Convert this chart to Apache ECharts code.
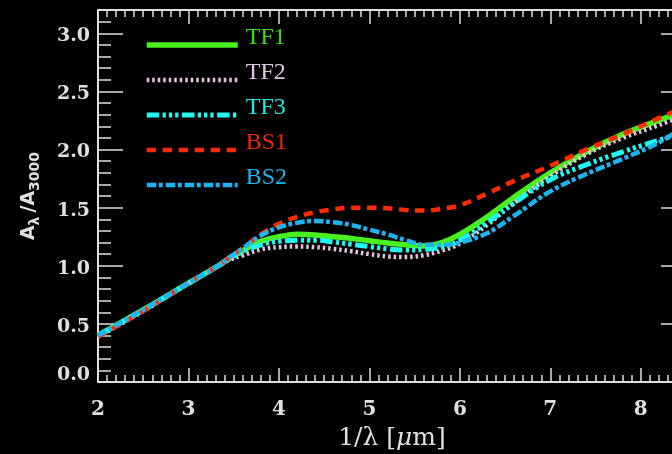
<!DOCTYPE html>
<html><head><meta charset="utf-8">
<script src="https://cdn.jsdelivr.net/npm/echarts@6/dist/echarts.min.js"></script>
<style>html,body{margin:0;padding:0;background:#000;}#c{width:672px;height:454px;}</style>
</head><body><div id="c"></div>
<script>
// 1/lambda [1/micron]
const xValues = [2.0,2.5,3.0,3.33,3.45,3.6,3.8,4.0,4.2,4.4,4.6,4.8,5.0,5.2,5.4,5.6,5.8,6.0,6.3,6.6,7.0,7.4,7.8,8.2,8.5];
const tf1 = [0.40,0.62,0.85,1.00,1.065,1.13,1.21,1.25,1.27,1.265,1.25,1.235,1.215,1.195,1.18,1.17,1.20,1.27,1.42,1.59,1.80,1.98,2.13,2.25,2.34];
const tf2 = [0.39,0.61,0.85,1.00,1.05,1.09,1.14,1.16,1.165,1.16,1.145,1.125,1.10,1.08,1.075,1.09,1.13,1.19,1.35,1.54,1.77,1.96,2.10,2.21,2.30];
const tf3 = [0.40,0.62,0.85,1.00,1.06,1.12,1.18,1.21,1.22,1.22,1.205,1.185,1.165,1.145,1.135,1.14,1.16,1.22,1.37,1.54,1.74,1.87,1.98,2.08,2.15];
const bs1 = [0.39,0.61,0.85,1.00,1.07,1.15,1.27,1.36,1.42,1.46,1.485,1.50,1.50,1.495,1.48,1.475,1.49,1.52,1.62,1.73,1.86,2.00,2.13,2.27,2.37];
const bs2 = [0.40,0.62,0.85,1.00,1.07,1.15,1.26,1.33,1.37,1.385,1.375,1.35,1.31,1.27,1.22,1.18,1.18,1.20,1.28,1.43,1.64,1.79,1.92,2.06,2.21];
const seriesNames = ['TF1','TF2','TF3','BS1','BS2'];
const seriesValues = [tf1, tf2, tf3, bs1, bs2];

const lineColors = ['#47f01e','#e8c4e4','#1ef8f0','#ff2a00','#1eb4f0'];
const textColors = ['#3cdc14','#e4c4e4','#1ee8e0','#f02800','#1eb4f0'];
const lineWidths = [5.5, 4.5, 5, 4.5, 4.5];
const lineTypes = ['solid', [2.5,3], [12.5,3.3,3.3,3,3.3,3,3.3,3.5], [9.3,6.7], [9.5,2.5,4,3]];

const axisCol = '#e0e0e0';
const tickFont = {color: axisCol, fontFamily: 'DejaVu Serif', fontWeight: 'bold', fontSize: 19};

function axisBase(extra) {
  return Object.assign({
    type: 'value', splitLine: {show: false},
    axisLine: {show: false, onZero: false, lineStyle: {color: axisCol, width: 2}},
    axisLabel: {show: false},
    axisTick: {show: true, inside: true, lineStyle: {color: axisCol, width: 1.5}}
  }, extra);
}

const chart = echarts.init(document.getElementById('c'), null, {renderer: 'canvas'});
chart.setOption({
  backgroundColor: '#000',
  animation: false,
  grid: {left: 98, top: 10, width: 588, height: 372, containLabel: false, outerBoundsMode: 'none'},
  legend: {
    orient: 'vertical', left: 144, top: 26, padding: 0, itemGap: -3,
    itemWidth: 91, itemHeight: 14, selectedMode: false,
    itemStyle: {opacity: 0},
    formatter: name => name + '\n ',
    textStyle: {fontFamily: 'Liberation Serif', fontSize: 24, lineHeight: 14, padding: [0, 0, 0, 3]},
    data: seriesNames.map((n, i) => ({
      name: n,
      textStyle: {color: textColors[i]},
      lineStyle: {color: lineColors[i], width: lineWidths[i], type: lineTypes[i], opacity: 1}
    }))
  },
  xAxis: [
    axisBase({position: 'bottom', min: 2, max: 8.5, interval: 1,
      axisLine: {show: true, onZero: false, lineStyle: {color: axisCol, width: 2}},
      axisTick: {show: true, inside: true, length: 14, lineStyle: {color: axisCol, width: 1.5}},
      axisLabel: Object.assign({show: true, margin: 18, showMaxLabel: false}, tickFont, {fontSize: 20}),
      name: '1/λ [{i|μ}m]', nameLocation: 'middle', nameGap: 44,
      nameTextStyle: {color: axisCol, fontFamily: 'DejaVu Serif', fontSize: 25,
        rich: {i: {fontFamily: 'DejaVu Serif', fontStyle: 'italic', fontSize: 25, color: axisCol}}}
    }),
    axisBase({position: 'bottom', min: 2, max: 8.5, interval: 0.1,
      axisTick: {show: true, inside: true, length: 7, lineStyle: {color: axisCol, width: 1.5}}}),
    axisBase({position: 'top', min: 2, max: 8.5, interval: 1,
      axisLine: {show: true, onZero: false, lineStyle: {color: axisCol, width: 2}},
      axisTick: {show: true, inside: true, length: 14, lineStyle: {color: axisCol, width: 1.5}}}),
    axisBase({position: 'top', min: 2, max: 8.5, interval: 0.1,
      axisTick: {show: true, inside: true, length: 7, lineStyle: {color: axisCol, width: 1.5}}})
  ],
  yAxis: [
    axisBase({position: 'left', min: 0, max: 3.2, interval: 0.5,
      axisLine: {show: true, onZero: false, lineStyle: {color: axisCol, width: 2}},
      axisTick: {show: true, inside: true, length: 25, lineStyle: {color: axisCol, width: 1.5}},
      axisLabel: Object.assign({show: true, margin: 8, showMaxLabel: false,
        formatter: v => v === 0 ? '{v|0.0}\n{h| }' : '{g| }\n{v|' + v.toFixed(1) + '}',
        rich: {
          g: {fontSize: 1, lineHeight: 6},
          h: {fontSize: 1, lineHeight: 14},
          v: Object.assign({lineHeight: 20}, tickFont)
        }}, tickFont),
      name: '{a|A}{s|λ}{b|/A}{s|3000}', nameLocation: 'middle', nameGap: 56,
      nameTextStyle: {color: axisCol,
        rich: {
          a: {fontFamily: 'DejaVu Sans', fontWeight: 'bold', fontSize: 19, color: axisCol},
          b: {fontFamily: 'DejaVu Sans', fontWeight: 'bold', fontSize: 19, color: axisCol, padding: [0, 0, 0, 4]},
          s: {fontFamily: 'DejaVu Sans', fontWeight: 'bold', fontSize: 14, color: axisCol, padding: [12, 0, 0, 0]}
        }}
    }),
    axisBase({position: 'left', min: 0, max: 3.2, interval: 0.1,
      axisTick: {show: true, inside: true, length: 13, lineStyle: {color: axisCol, width: 1.5}}}),
    axisBase({position: 'right', min: 0, max: 3.2, interval: 0.5,
      axisLine: {show: true, onZero: false, lineStyle: {color: axisCol, width: 2}},
      axisTick: {show: true, inside: true, length: 25, lineStyle: {color: axisCol, width: 1.5}}}),
    axisBase({position: 'right', min: 0, max: 3.2, interval: 0.1,
      axisTick: {show: true, inside: true, length: 13, lineStyle: {color: axisCol, width: 1.5}}})
  ],
  series: seriesNames.map((n, i) => ({
    name: n, type: 'line', xAxisIndex: 0, yAxisIndex: 0,
    data: xValues.map((x, j) => [x, seriesValues[i][j]]),
    smooth: 0.4, showSymbol: false, symbol: 'none', silent: true,
    lineStyle: {color: lineColors[i], width: lineWidths[i], type: lineTypes[i], cap: 'butt'},
    itemStyle: {color: lineColors[i]}
  }))
});
</script></body></html>
